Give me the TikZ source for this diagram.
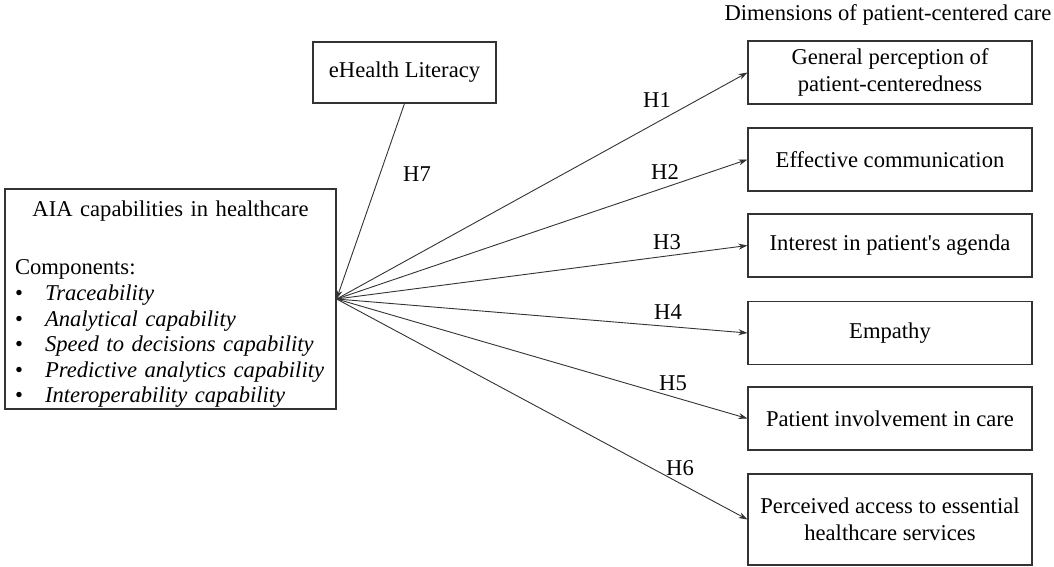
\documentclass[tikz,border=0pt]{standalone}
\usepackage{fontspec}
\setmainfont{Liberation Serif}
\usetikzlibrary{arrows.meta}

\begin{document}
\begin{tikzpicture}[x=1pt,y=-1pt]
	\tikzset{every node/.style={font=\fontsize{22.6}{27}\selectfont}}
	\tikzset{dimbox/.style={draw=black!80,line width=1.1pt,minimum width=284pt,minimum height=63pt,align=center,inner sep=0pt}}
	\tikzset{hyp/.style={draw=black!80,line width=0.9pt,-{Stealth[length=9pt,width=6pt]}}}
	\useasboundingbox (0,0) rectangle (1054,567);
	\node[draw=black!80,line width=1.1pt,minimum width=331pt,minimum height=220pt,text width=311pt,inner xsep=10pt,inner ysep=0pt,align=left,font=\fontsize{22.6}{25.6}\selectfont] (aia) at (170.5,299) {\rule{0pt}{26pt}\makebox[311pt][c]{AIA capabilities in healthcare}\\[33pt]
		Components:\\
		\makebox[30pt][l]{\textbullet}\textit{Traceability}\\
		\makebox[30pt][l]{\textbullet}\textit{Analytical capability}\\
		\makebox[30pt][l]{\textbullet}\textit{Speed to decisions capability}\\
		\makebox[30pt][l]{\textbullet}\textit{Predictive analytics capability}\\
		\makebox[30pt][l]{\textbullet}\textit{Interoperability capability}};
	\node[dimbox,minimum width=183pt,minimum height=61pt] (ehl) at (404.5,72.5) {eHealth Literacy};
	\node (dim) at (888,15) {Dimensions of patient-centered care};
	\node[dimbox] (d1) at (890,72.5) {General perception of\\patient-centeredness};
	\node[dimbox] (d2) at (890,159.5) {Effective communication};
	\node[dimbox] (d3) at (890,245.5) {Interest in patient\textquotesingle s agenda};
	\node[dimbox] (d4) at (890,333) {Empathy};
	\node[dimbox] (d5) at (890,418.5) {Patient involvement in care};
	\node[dimbox,minimum height=91pt] (d6) at (890,519.5) {Perceived access to essential\\healthcare services};
	\foreach \i in {1,...,6} \draw[hyp] (aia.east) -- (d\i.west);
	\draw[hyp] (ehl.south) -- (aia.east);
	\foreach \i/\x/\y in {1/657/100,2/665/172,3/667/242,4/668/312,5/673/383,6/680/468,7/417/174}
		\node (h\i) at (\x,\y) {H\i};
\end{tikzpicture}
\end{document}
